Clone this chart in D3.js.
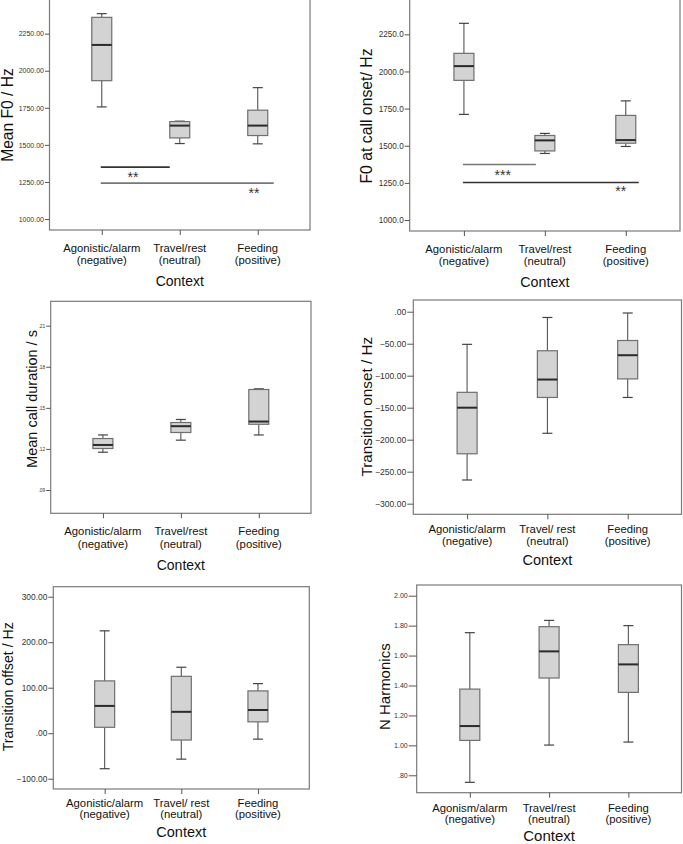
<!DOCTYPE html>
<html><head><meta charset="utf-8">
<script src="https://cdn.jsdelivr.net/npm/d3@7"></script>
<style>
html,body{margin:0;padding:0;background:#fff;}
svg{display:block;font-family:"Liberation Sans",Arial,sans-serif;}
</style></head>
<body>
<svg id="chart" width="683" height="844"></svg>
<script>
// ---------- DATA ----------
const categoriesA = [["Agonistic/alarm","(negative)"],["Travel/rest","(neutral)"],["Feeding","(positive)"]];
const categoriesB = [["Agonistic/alarm","(negative)"],["Travel/ rest","(neutral)"],["Feeding","(positive)"]];
const categoriesC = [["Agonism/alarm","(negative)"],["Travel/rest","(neutral)"],["Feeding","(positive)"]];

// box stats: [lower whisker, Q1, median, Q3, upper whisker]
const meanF0      = [[1756,1933,2174,2360,2385],[1509,1547,1630,1657,1660],[1507,1563,1630,1734,1886]];
const f0Onset     = [[1711,1940,2036,2122,2324],[1448,1465,1536,1569,1583],[1495,1517,1538,1704,1802]];
const callDur     = [[0.1176,0.1203,0.1229,0.1276,0.1302],[0.1264,0.1320,0.1366,0.1393,0.1415],[0.1302,0.1380,0.1400,0.1634,0.1639]];
const transOnset  = [[-263,-222,-150,-126,-51],[-190,-134,-106,-61,-9],[-134,-105,-68,-45,-2]];
const transOffset = [[-78,13,60,115,225],[-57,-15,47,125,145],[-13,25,51,93,109]];
const nHarmonics  = [[0.753,1.033,1.129,1.376,1.753],[1.002,1.450,1.628,1.793,1.835],[1.022,1.354,1.541,1.673,1.800]];

// tick values
const ticksMeanF0   = [1000,1250,1500,1750,2000,2250];
const ticksF0Onset  = [1000,1250,1500,1750,2000,2250];
const ticksDur      = [0.09,0.12,0.15,0.18,0.21];
const ticksTOnset   = [0,-50,-100,-150,-200,-250,-300];
const ticksTOffset  = [-100,0,100,200,300];
const ticksHarm     = [0.8,1.0,1.2,1.4,1.6,1.8,2.0];

// significance bars: from category index a to b, at value y
const sigMeanF0  = [{a:0,b:1,y:1350,label:"**"},{a:0,b:2,y:1242,label:"**"}];
const sigF0Onset = [{a:0,b:1,y:1374,label:"***"},{a:0,b:2,y:1252,label:"**"}];

// ---------- LAYOUT ----------
const svg = d3.select("#chart");
const stripZero = s => s.replace(/^(-?)0\./,"$1.");

const panels = [
  {data:meanF0, cats:categoriesA, ticks:ticksMeanF0, fmt:d=>d3.format(".2f")(d), title:"Mean F0 / Hz",
   x0:49.5,x1:310,y0:0,y1:230,dom:[926,2477],hideTop:true,tickFs:7,tickLen:4.5,
   titleX:12.8,titleY:115,titleFs:15.6,lab1:252.3,lab2:263.5,ctxY:286,ctxFs:14,sig:sigMeanF0,
   sigLayout:[{x2off:-10,lx:133,ly:181.5,col:"#333"},{x2off:16,lx:254,ly:197.5,col:"#777"}]},
  {data:f0Onset, cats:categoriesA, ticks:ticksF0Onset, fmt:d=>d3.format(".1f")(d), title:"F0 at call onset/ Hz",
   x0:409.7,x1:680,y0:0,y1:231,dom:[926,2481],hideTop:true,tickFs:8.2,tickLen:5,
   titleX:371.7,titleY:116,titleFs:15.8,lab1:253.3,lab2:264.5,ctxY:286.7,ctxFs:14.3,sig:sigF0Onset,
   sigLayout:[{x2off:-9,lx:502.7,ly:179.8,col:"#777"},{x2off:13,lx:620.7,ly:196.3,col:"#333"}]},
  {data:callDur, cats:categoriesA, ticks:ticksDur, fmt:d=>stripZero(d3.format(".2f")(d)), title:"Mean call duration / s",
   x0:50.7,x1:311,y0:301.3,y1:513.3,dom:[0.073,0.2278],tickFs:4.8,tickLen:4.5,
   titleX:36.5,titleY:399,titleFs:14.5,lab1:535,lab2:548.3,ctxY:570,ctxFs:14},
  {data:transOnset, cats:categoriesB, ticks:ticksTOnset, fmt:d=>stripZero(d3.format(".2f")(d)), title:"Transition onset / Hz",
   x0:413.3,x1:681.5,y0:300,y1:514.3,dom:[-316.6,18.3],tickFs:8.6,tickLen:6,
   titleX:371.7,titleY:406.7,titleFs:15.3,lab1:533.3,lab2:544.5,ctxY:565,ctxFs:14.5},
  {data:transOffset, cats:categoriesB, ticks:ticksTOffset, fmt:d=>stripZero(d3.format(".2f")(d)), title:"Transition offset / Hz",
   x0:53.3,x1:309.3,y0:586.7,y1:789,dom:[-122.6,322],tickFs:8.4,tickLen:5,
   titleX:12.5,titleY:686.7,titleFs:14.2,lab1:806.7,lab2:818.3,ctxY:836.7,ctxFs:14.5},
  {data:nHarmonics, cats:categoriesC, ticks:ticksHarm, fmt:d=>stripZero(d3.format(".2f")(d)), title:"N Harmonics",
   x0:416.7,x1:681.5,y0:585,y1:792.7,dom:[0.6837,2.0715],tickFs:7,tickLen:8,
   titleX:390,titleY:686.7,titleFs:15,lab1:811.7,lab2:823.3,ctxY:840.5,ctxFs:15}
];

const boxW = 20, capW = 10;

panels.forEach(p => {
  const g = svg.append("g");
  const names = p.cats.map(c => c.join(" "));
  const x = d3.scalePoint().domain(names).range([p.x0, p.x1]).padding(0.67);
  const y = d3.scaleLinear().domain(p.dom).range([p.y1, p.y0]);

  // frame
  g.append("rect")
    .attr("x", p.x0).attr("y", p.hideTop ? p.y0 - 3 : p.y0)
    .attr("width", p.x1 - p.x0).attr("height", p.y1 - (p.hideTop ? p.y0 - 3 : p.y0))
    .attr("fill", "none").attr("stroke", "#7a7a7a").attr("stroke-width", 1.2);

  // y axis
  const yAxis = d3.axisLeft(y).tickValues(p.ticks).tickFormat(p.fmt).tickSize(p.tickLen).tickPadding(1);
  const ya = g.append("g").attr("transform", `translate(${p.x0},0)`).call(yAxis);
  ya.select(".domain").remove();
  ya.selectAll(".tick line").attr("stroke", "#555");
  ya.selectAll(".tick text").attr("fill", "#333").style("font-size", p.tickFs + "px")
    .style("font-family", "'Liberation Sans',Arial,sans-serif");

  // x axis
  const xAxis = d3.axisBottom(x).tickSize(5).tickFormat("");
  const xa = g.append("g").attr("transform", `translate(0,${p.y1})`).call(xAxis);
  xa.select(".domain").remove();
  xa.selectAll(".tick line").attr("stroke", "#555");

  // category labels
  p.cats.forEach((c, i) => {
    const t = g.append("text").attr("x", x(names[i])).attr("text-anchor", "middle")
      .style("font-size", "11.3px").attr("fill", "#111");
    t.append("tspan").attr("x", x(names[i])).attr("y", p.lab1).text(c[0]);
    t.append("tspan").attr("x", x(names[i])).attr("y", p.lab2).text(c[1]);
  });

  // axis titles
  g.append("text").attr("x", (p.x0 + p.x1) / 2).attr("y", p.ctxY).attr("text-anchor", "middle")
    .style("font-size", p.ctxFs + "px").attr("fill", "#111").text("Context");
  g.append("text").attr("transform", `translate(${p.titleX},${p.titleY}) rotate(-90)`)
    .attr("text-anchor", "middle").style("font-size", p.titleFs + "px").attr("fill", "#111").text(p.title);

  // boxes
  p.data.forEach((d, i) => {
    const cx = x(names[i]);
    const [lo, q1, med, q3, hi] = d;
    const bg = g.append("g");
    bg.append("line").attr("x1", cx).attr("x2", cx).attr("y1", y(hi)).attr("y2", y(q3)).attr("stroke", "#555").attr("stroke-width", 1.1);
    bg.append("line").attr("x1", cx).attr("x2", cx).attr("y1", y(q1)).attr("y2", y(lo)).attr("stroke", "#555").attr("stroke-width", 1.1);
    bg.append("line").attr("x1", cx - capW / 2).attr("x2", cx + capW / 2).attr("y1", y(hi)).attr("y2", y(hi)).attr("stroke", "#444").attr("stroke-width", 1.2);
    bg.append("line").attr("x1", cx - capW / 2).attr("x2", cx + capW / 2).attr("y1", y(lo)).attr("y2", y(lo)).attr("stroke", "#444").attr("stroke-width", 1.2);
    bg.append("rect").attr("x", cx - boxW / 2).attr("y", y(q3)).attr("width", boxW).attr("height", y(q1) - y(q3))
      .attr("fill", "#d3d3d3").attr("stroke", "#6f6f6f").attr("stroke-width", 1.2);
    bg.append("line").attr("x1", cx - boxW / 2).attr("x2", cx + boxW / 2).attr("y1", y(med)).attr("y2", y(med))
      .attr("stroke", "#2a2a2a").attr("stroke-width", 2);
  });

  // significance bars
  if (p.sig) {
    p.sig.forEach((s, k) => {
      const L = p.sigLayout[k];
      g.append("line").attr("x1", x(names[s.a]) - 1).attr("x2", x(names[s.b]) + L.x2off)
        .attr("y1", y(s.y)).attr("y2", y(s.y)).attr("stroke", L.col).attr("stroke-width", 1.6);
      g.append("text").attr("x", L.lx).attr("y", L.ly).attr("text-anchor", "middle")
        .style("font-size", "14px").attr("fill", "#333").text(s.label);
    });
  }
});
</script>
</body></html>
